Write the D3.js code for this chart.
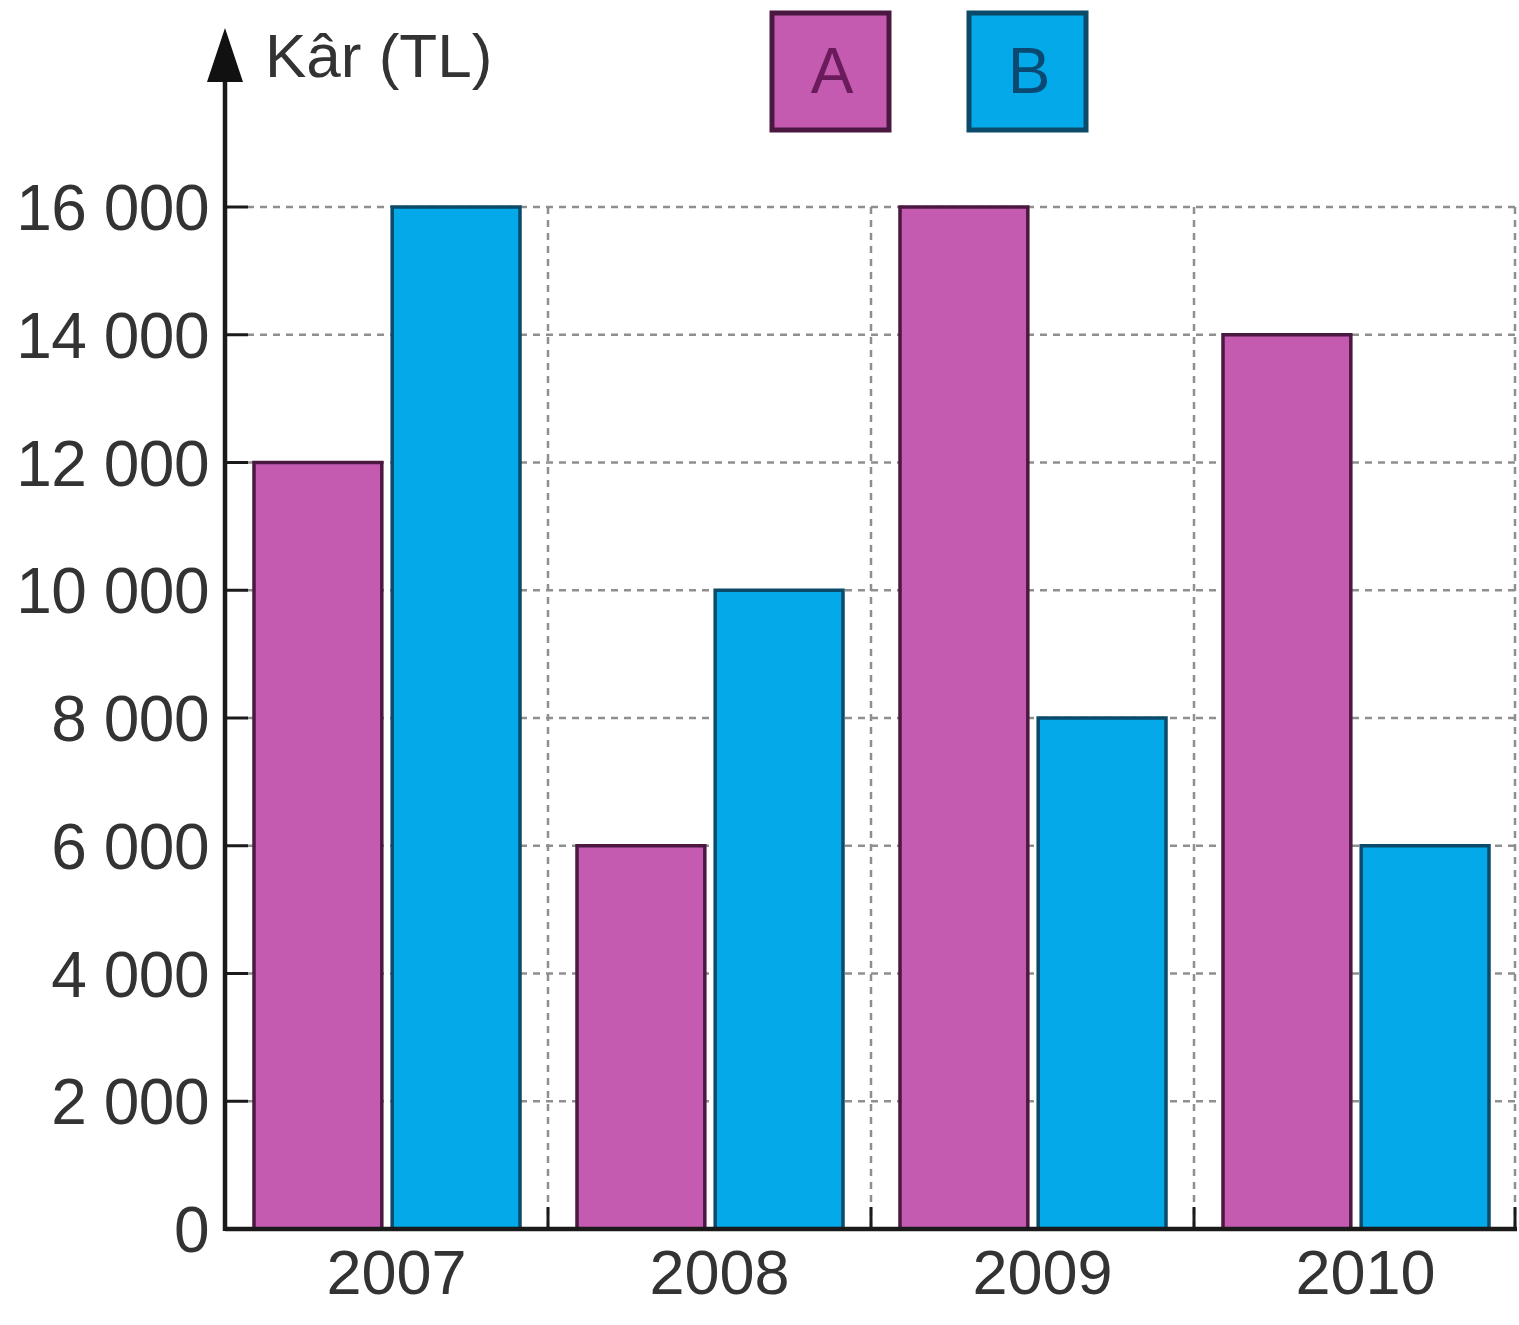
<!DOCTYPE html>
<html>
<head>
<meta charset="utf-8">
<script src="https://cdn.jsdelivr.net/npm/d3@7"></script>
<style>
  html, body { margin: 0; padding: 0; background: #fff; }
  svg { display: block; }
  text { font-family: "Liberation Sans", Arial, sans-serif; }
</style>
</head>
<body>
<svg id="chart" width="1519" height="1325"></svg>
<script>
const years = ["2007", "2008", "2009", "2010"];
const seriesNames = ["A", "B"];
const valuesA = [12000, 6000, 16000, 14000];
const valuesB = [16000, 10000, 8000, 6000];
const yTicks = [0, 2000, 4000, 6000, 8000, 10000, 12000, 14000, 16000];
const yTitle = "Kâr (TL)";

const fills = { A: "#c45bb0", B: "#03a9e9" };
const strokes = { A: "#4a1840", B: "#0b4a68" };
const legendText = { A: "#6b1a5c", B: "#0a4a72" };

const svg = d3.select("#chart");
const x0 = 225, x1 = 1517, yBase = 1229, yTop = 207;

const x = d3.scaleBand().domain(years).range([x0, x1]).padding(0);
const xs = d3.scaleBand().domain(seriesNames).range([29, 295]).paddingInner(0.075);
const y = d3.scaleLinear().domain([0, 16000]).range([yBase, yTop]);

const data = years.map((yr, i) => ({ year: yr, A: valuesA[i], B: valuesB[i] }));

// horizontal dashed grid
svg.append("g").selectAll("line").data(yTicks.filter(d => d > 0)).join("line")
  .attr("x1", x0 + 22).attr("x2", x1 - 2)
  .attr("y1", d => y(d)).attr("y2", d => y(d))
  .attr("stroke", "#8f8f8f").attr("stroke-width", 2.5).attr("stroke-dasharray", "7,6");

// vertical dashed grid at band boundaries
const boundaries = years.slice(1).map(d => x(d)).concat([x1 - 2]);
svg.append("g").selectAll("line").data(boundaries).join("line")
  .attr("x1", d => d).attr("x2", d => d)
  .attr("y1", yTop).attr("y2", yBase)
  .attr("stroke", "#8f8f8f").attr("stroke-width", 2.5).attr("stroke-dasharray", "7,6");

// bars
const groups = svg.append("g").selectAll("g").data(data).join("g")
  .attr("transform", d => `translate(${x(d.year)},0)`);
groups.selectAll("rect").data(d => seriesNames.map(k => ({ key: k, value: d[k] }))).join("rect")
  .attr("x", d => xs(d.key))
  .attr("width", xs.bandwidth())
  .attr("y", d => y(d.value))
  .attr("height", d => yBase - y(d.value))
  .attr("fill", d => fills[d.key])
  .attr("stroke", d => strokes[d.key])
  .attr("stroke-width", 3.5);

// x-axis ticks at boundaries
svg.append("g").selectAll("line").data(boundaries).join("line")
  .attr("x1", d => d).attr("x2", d => d)
  .attr("y1", yBase - 22).attr("y2", yBase)
  .attr("stroke", "#1a1a1a").attr("stroke-width", 3);

// x axis line
svg.append("line").attr("x1", x0).attr("x2", x1)
  .attr("y1", yBase).attr("y2", yBase)
  .attr("stroke", "#1a1a1a").attr("stroke-width", 4.5);

// year labels
svg.append("g").selectAll("text").data(years).join("text")
  .attr("x", d => x(d) + x.bandwidth() / 2 + 10)
  .attr("y", 1294)
  .attr("text-anchor", "middle")
  .attr("font-size", 63)
  .attr("fill", "#333")
  .text(d => d);

// y axis ticks
svg.append("g").selectAll("line").data(yTicks.filter(d => d > 0)).join("line")
  .attr("x1", x0).attr("x2", x0 + 23)
  .attr("y1", d => y(d)).attr("y2", d => y(d))
  .attr("stroke", "#1a1a1a").attr("stroke-width", 3);

// y tick labels
const fmt = d => d3.format(",")(d).replace(",", " ");
svg.append("g").selectAll("text").data(yTicks).join("text")
  .attr("x", 209)
  .attr("y", d => y(d) + 23)
  .attr("text-anchor", "end")
  .attr("font-size", 64)
  .attr("letter-spacing", -0.5)
  .attr("fill", "#333")
  .text(fmt);

// y axis line + arrow
svg.append("line").attr("x1", x0).attr("x2", x0)
  .attr("y1", yBase + 2).attr("y2", 70)
  .attr("stroke", "#1a1a1a").attr("stroke-width", 4.5);
svg.append("path")
  .attr("d", `M${x0},28 L${x0 + 18},82 L${x0 - 18},82 Z`)
  .attr("fill", "#111");

// y title
svg.append("text").attr("x", 265).attr("y", 77)
  .attr("font-size", 62)
  .attr("fill", "#333").text(yTitle);

// legend
const legendX = { A: 772, B: 969 };
const leg = svg.append("g").selectAll("g").data(seriesNames).join("g")
  .attr("transform", d => `translate(${legendX[d]},13)`);
leg.append("rect").attr("width", 117).attr("height", 117)
  .attr("fill", d => fills[d]).attr("stroke", d => strokes[d]).attr("stroke-width", 5);
leg.append("text").attr("x", 60).attr("y", 80)
  .attr("text-anchor", "middle").attr("font-size", 64)
  .attr("fill", d => legendText[d]).text(d => d);
</script>
</body>
</html>
